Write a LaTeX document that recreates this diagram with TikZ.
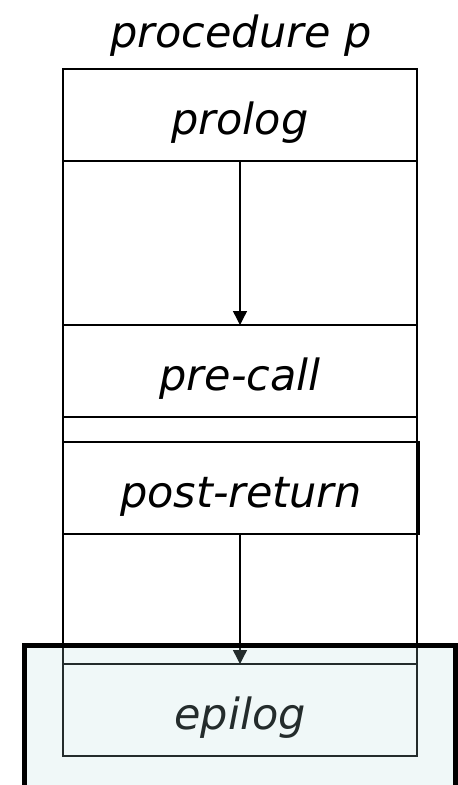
\documentclass[tikz,border=0pt]{standalone}
\usepackage{fontspec}
\setmainfont{DejaVu Sans}
\usetikzlibrary{arrows.meta}
\begin{document}
\begin{tikzpicture}[x=1pt,y=-1pt,
  lbl/.style={font=\fontsize{43}{48}\selectfont\itshape},
  part/.style={draw, line width=1.4pt, minimum width=354pt, minimum height=92pt,
    inner sep=0pt, outer sep=0pt, text height=38pt, text depth=0pt, lbl},
  side/.style={line width=1.4pt},
  flow/.style={line width=1.4pt, -{Triangle[length=14pt,width=14pt]}},
  shade/.style={draw=black, line width=5pt, fill={rgb,255:red,180;green,220;blue,220}, fill opacity=0.2}]
\useasboundingbox (0,0) rectangle (458,785);
% heading
\node[lbl, anchor=base] (title) at (241,47) {procedure p};
% the four parts of the procedure
\node[part] (prolog) at (240,115) {prolog};
\node[part] (precall) at (240,371) {pre-call};
\node[part, minimum width=356pt] (postret) at (241,488) {post-return};
\node[part] (epilog) at (240,710) {epilog};
% body frame sides
\draw[side] (prolog.south west) -- (epilog.north west);
\draw[side] (prolog.south east) -- (epilog.north east);
% control flow
\draw[flow] (prolog.south) -- (precall.north);
\draw[flow] (postret.south -| epilog.north) -- (epilog.north);
% highlighted region around the epilog
\path[shade] (24,645.5) rectangle (455,810);
\end{tikzpicture}
\end{document}
